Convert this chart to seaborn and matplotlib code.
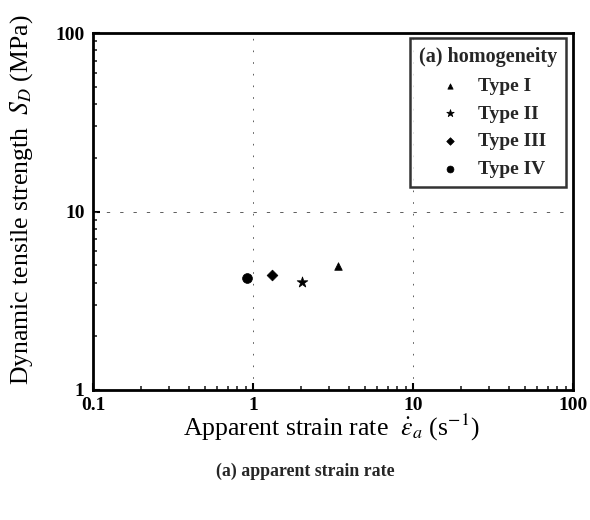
import matplotlib
matplotlib.use("Agg")
import matplotlib.pyplot as plt
import seaborn as sns
import pandas as pd
from matplotlib.ticker import LogLocator, NullFormatter, FixedLocator, FixedFormatter

# Specimen types and their measured values
types = ["Type I", "Type II", "Type III", "Type IV"]
strain_rate = [3.38, 2.02, 1.32, 0.914]     # apparent strain rate (1/s)
strength = [4.97, 4.01, 4.41, 4.26]          # dynamic tensile strength (MPa)
x_ticks = [0.1, 1, 10, 100]
x_tick_labels = ["0.1", "1", "10", "100"]
y_ticks = [1, 10, 100]
y_tick_labels = ["1", "10", "100"]

df = pd.DataFrame({"type": types, "rate": strain_rate, "sd": strength})

sns.set_theme(style="white")
plt.rcParams["font.family"] = ["Liberation Serif", "DejaVu Serif"]
plt.rcParams["mathtext.fontset"] = "stix"

fig = plt.figure(figsize=(5.9, 5.2), dpi=100)
ax = fig.add_axes([0.1576, 0.25, 0.8135, 0.6865])

markers = {"Type I": "^", "Type II": "*", "Type III": "D", "Type IV": "o"}
sizes = {"Type I": 30, "Type II": 65, "Type III": 30, "Type IV": 50}
for t in types:
    sub = df[df["type"] == t]
    sns.scatterplot(data=sub, x="rate", y="sd", marker=markers[t], s=sizes[t],
                    color="black", edgecolor="black", linewidth=0.5,
                    ax=ax, label=t, zorder=3)

ax.set_xscale("log")
ax.set_yscale("log")
ax.set_xlim(0.1, 100)
ax.set_ylim(1, 100)

# faint, sparse dashed reference lines at the inner decades
for xv in [1, 10]:
    ax.axvline(xv, color="#444444", lw=0.6, ls=(0, (2, 12)), zorder=1)
ax.axhline(10, color="#444444", lw=0.6, ls=(0, (4, 12)), zorder=1)

ax.xaxis.set_major_locator(FixedLocator(x_ticks))
ax.xaxis.set_major_formatter(FixedFormatter(x_tick_labels))
ax.yaxis.set_major_locator(FixedLocator(y_ticks))
ax.yaxis.set_major_formatter(FixedFormatter(y_tick_labels))
ax.xaxis.set_minor_locator(LogLocator(base=10, subs=range(2, 10)))
ax.yaxis.set_minor_locator(LogLocator(base=10, subs=range(2, 10)))
ax.xaxis.set_minor_formatter(NullFormatter())
ax.yaxis.set_minor_formatter(NullFormatter())

ax.tick_params(which="major", direction="in", length=5, width=1.5,
               bottom=True, left=True, top=False, right=False,
               labelsize=14, colors="black")
ax.tick_params(axis="x", which="major", pad=5)
ax.tick_params(axis="y", which="major", pad=6)
ax.tick_params(which="minor", direction="in", length=3, width=1.2,
               bottom=True, left=True, top=False, right=False)
for lbl in ax.get_xticklabels() + ax.get_yticklabels():
    lbl.set_fontweight("bold")

for sp in ax.spines.values():
    sp.set_linewidth(2.0)
    sp.set_color("black")

ax.set_xlabel(r"Apparent strain rate  $\dot{\varepsilon}_a$ (s$^{-1}$)",
              fontsize=18.5, color="black")
ax.set_ylabel(r"Dynamic tensile strength  $S_D$ (MPa)",
              fontsize=18.5, color="black")
ax.xaxis.label.set_verticalalignment("center")
ax.yaxis.label.set_verticalalignment("center")
ax.xaxis.set_label_coords(0.497, -0.106)
ax.yaxis.set_label_coords(-0.148, 0.532)

leg = ax.legend(title="(a) homogeneity", loc="upper right", frameon=True,
                fancybox=False, edgecolor="black", fontsize=14,
                title_fontproperties={"weight": "bold", "size": 14.5},
                handletextpad=0.44, labelspacing=0.52, borderpad=0.45,
                borderaxespad=0.0, markerscale=0.7,
                bbox_to_anchor=(0.985, 0.985))
leg.get_frame().set_linewidth(1.8)
for txt in leg.get_texts():
    txt.set_fontweight("bold")

fig.text(0.518, 0.094, "(a) apparent strain rate", ha="center", va="center",
         fontsize=12.8, fontweight="bold")

fig.savefig("out.png", dpi=100, facecolor="white")
